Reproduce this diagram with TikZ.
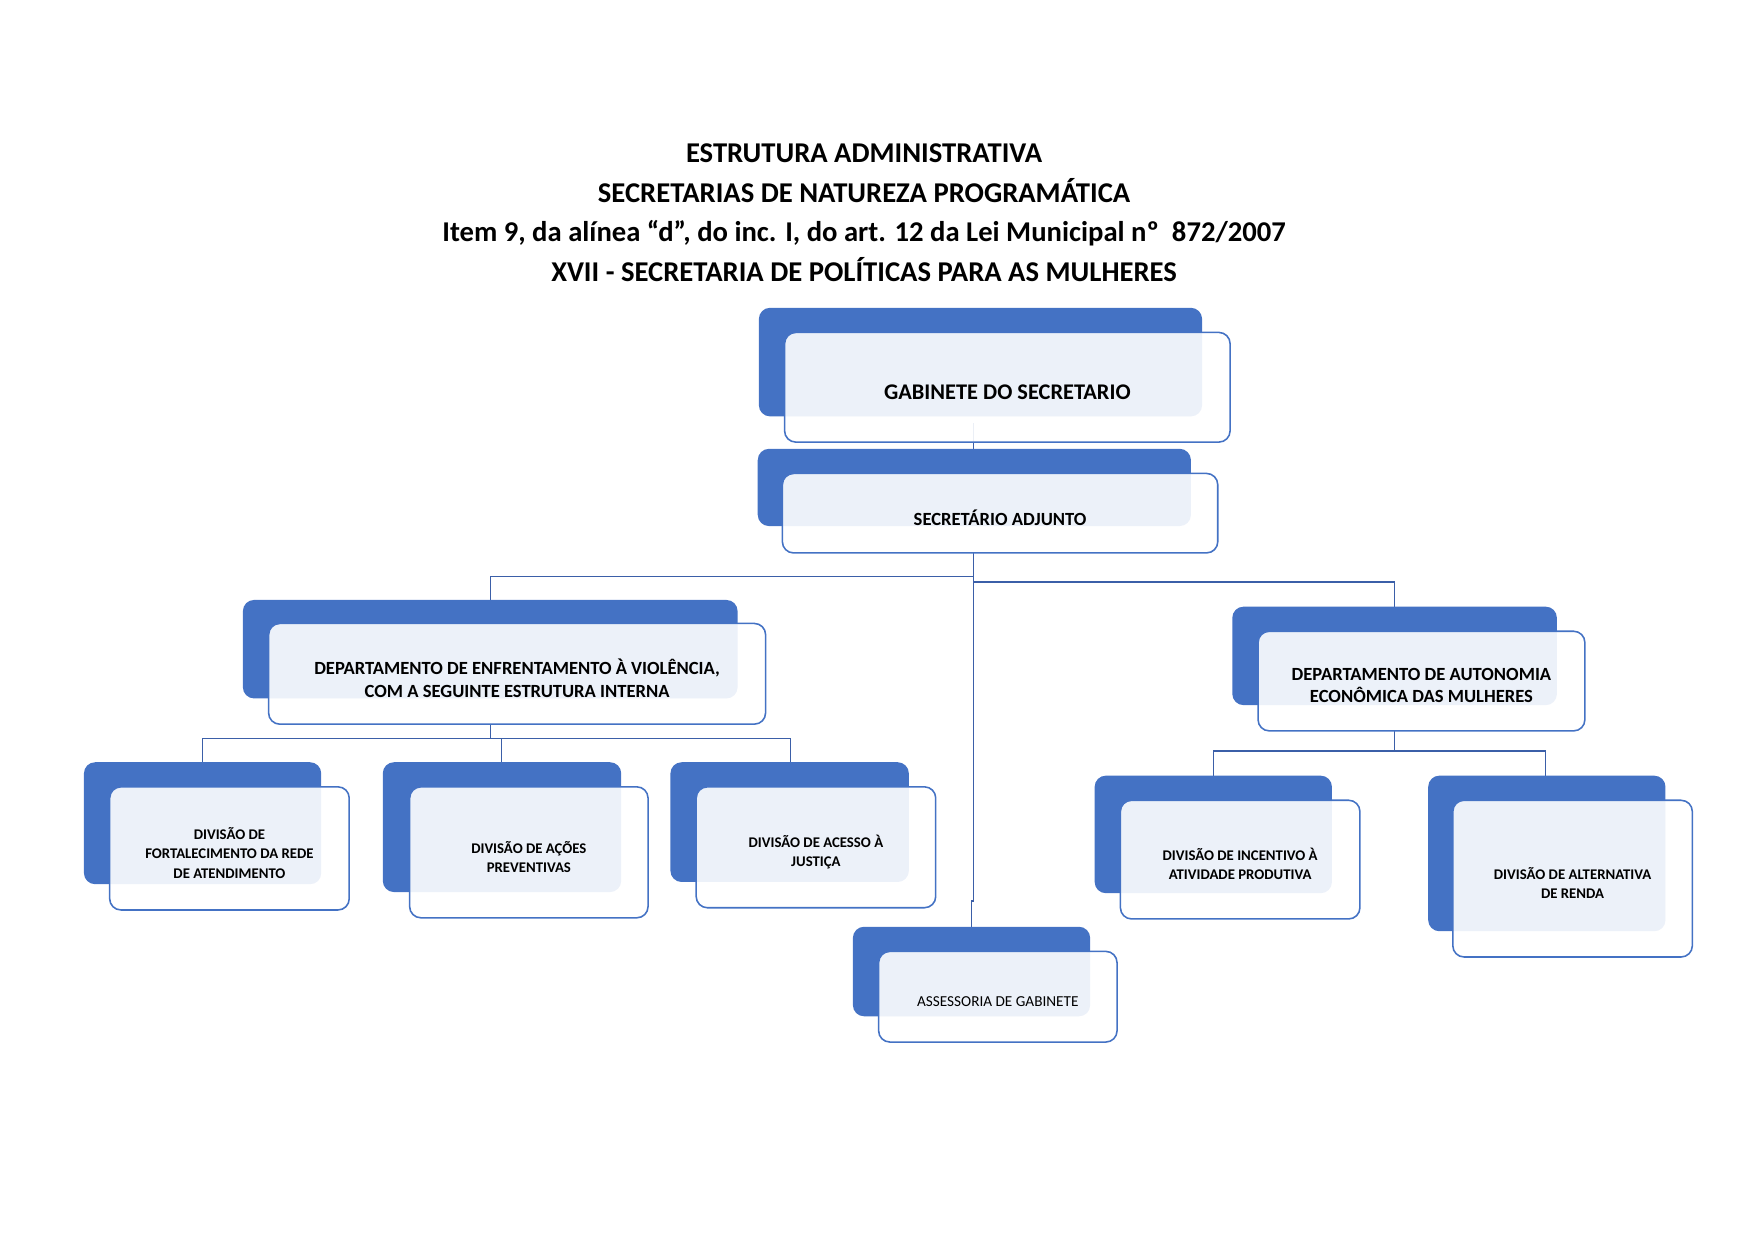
\documentclass[tikz,border=0pt]{standalone}
\usepackage{fontspec}
\setmainfont{Carlito}
\begin{document}
\begin{tikzpicture}[x=0.5pt,y=-0.5pt,
  back/.style={fill={rgb,255:red,68;green,114;blue,196},rounded corners=5pt},
  front/.style={draw={rgb,255:red,68;green,114;blue,196},line width=0.7pt,fill=white,fill opacity=0.9,rounded corners=5pt},
  lbl/.style={align=center,font=\bfseries\fontsize{8.3}{10}\selectfont},
  slbl/.style={align=center,font=\bfseries\fontsize{6.6}{8.6}\selectfont},
  conn/.style={draw={rgb,255:red,59;green,95;blue,168},line width=0.6pt}]
\useasboundingbox (0,0) rectangle (1568,1108);
\node[align=center,font=\bfseries\fontsize{12.8}{17.6}\selectfont] (title) at (772,190)
 {ESTRUTURA ADMINISTRATIVA\\SECRETARIAS DE NATUREZA PROGRAMÁTICA\\Item 9, da alínea “d”, do inc. I, do art. 12 da Lei Municipal nº\ \ 872/2007\\XVII - SECRETARIA DE POLÍTICAS PARA AS MULHERES};
% connectors
\coordinate (ga) at (870,378);
\coordinate (ad) at (870,494);
\coordinate (den) at (438,647);
\coordinate (dau) at (1246,653);
\draw[conn] (ga) -- (870,401);
\draw[conn] (ad) -- (870,515) -| (438,536);
\draw[conn] (870,515) -- (870,520) -| (1246,542);
\draw[conn] (870,520) -- (870,805) -- (868,805) -- (868,828);
\draw[conn] (den) -- (438,660);
\draw[conn] (181,681) |- (706,660) -- (706,681);
\draw[conn] (448,660) -- (448,681);
\draw[conn] (dau) -- (1246,671);
\draw[conn] (1084,693) |- (1381,671) -- (1381,693);
% boxes
\newcommand{\obox}[9]{%
 \fill[back] (#1,#2) rectangle (#3,#4);
 \path[front] (#5,#6) rectangle (#7,#8);
 \node[#9] at ({(#5+#7)/2},{(#6+#8)/2+4}) }
\obox{678}{275}{1074}{372}{701}{297}{1099}{395}{lbl,font=\bfseries\fontsize{10}{12}\selectfont} (gab) {GABINETE DO SECRETARIO};
\obox{677}{401}{1064}{470}{699}{423}{1088}{494}{lbl} (adj) {SECRETÁRIO ADJUNTO};
\obox{217}{536}{659}{624}{240}{557}{684}{647}{lbl} (enf) {DEPARTAMENTO DE ENFRENTAMENTO À VIOLÊNCIA,\\COM A SEGUINTE ESTRUTURA INTERNA};
\obox{1101}{542}{1391}{630}{1124}{564}{1416}{653}{lbl} (aut) {DEPARTAMENTO DE AUTONOMIA\\ECONÔMICA DAS MULHERES};
\obox{75}{681}{287}{790}{98}{703}{312}{813}{slbl} (fort) {DIVISÃO DE\\FORTALECIMENTO DA REDE\\DE ATENDIMENTO};
\obox{342}{681}{555}{797}{366}{703}{579}{820}{slbl} (acoes) {DIVISÃO DE AÇÕES\\PREVENTIVAS};
\obox{599}{681}{812}{788}{622}{703}{836}{811}{slbl} (acesso) {DIVISÃO DE ACESSO À\\JUSTIÇA};
\obox{762}{828}{974}{908}{785}{850}{998}{931}{align=center,font=\fontsize{6.8}{8.6}\selectfont} (asse) {ASSESSORIA DE GABINETE};
\obox{978}{693}{1190}{798}{1001}{715}{1215}{821}{slbl} (inc) {DIVISÃO DE INCENTIVO À\\ATIVIDADE PRODUTIVA};
\obox{1276}{693}{1488}{832}{1298}{715}{1512}{855}{slbl} (alt) {DIVISÃO DE ALTERNATIVA\\DE RENDA};
\end{tikzpicture}
\end{document}
